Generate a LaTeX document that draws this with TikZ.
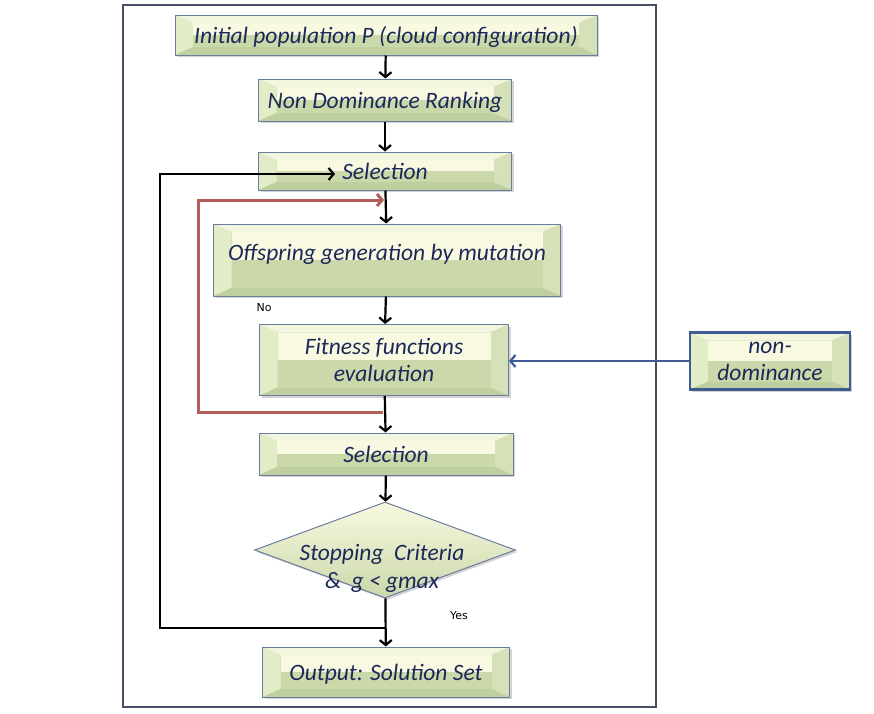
\documentclass[tikz,border=0pt]{standalone}
\usepackage{fontspec}
\setmainfont{Carlito}
\newfontfamily\notefont{DejaVu Sans}
\usetikzlibrary{arrows.meta,shapes.geometric,shadows,calc}

\definecolor{bevtop}{RGB}{242,246,222}
\definecolor{bevleft}{RGB}{226,236,198}
\definecolor{bevright}{RGB}{214,225,186}
\definecolor{bevbot}{RGB}{192,207,160}
\definecolor{panelhi}{RGB}{248,249,224}
\definecolor{panello}{RGB}{203,216,170}
\definecolor{boxline}{RGB}{105,125,160}
\definecolor{ink}{RGB}{28,40,88}
\definecolor{loopred}{RGB}{180,94,90}
\definecolor{feedblue}{RGB}{62,92,145}
\definecolor{frame}{RGB}{70,80,100}

\tikzset{
  bevel/.style={path picture={
    \path (path picture bounding box.north west) coordinate (p1)
          (path picture bounding box.north east) coordinate (p2)
          (path picture bounding box.south east) coordinate (p3)
          (path picture bounding box.south west) coordinate (p4);
    \path ([xshift=18pt,yshift=-8pt]p1) coordinate (q1)
          ([xshift=-18pt,yshift=-8pt]p2) coordinate (q2)
          ([xshift=-18pt,yshift=8pt]p3) coordinate (q3)
          ([xshift=18pt,yshift=8pt]p4) coordinate (q4);
    \fill[bevtop] (p1) -- (p2) -- (q2) -- (q1) -- cycle;
    \fill[bevleft] (p1) -- (q1) -- (q4) -- (p4) -- cycle;
    \fill[bevright] (p2) -- (p3) -- (q3) -- (q2) -- cycle;
    \fill[bevbot] (p4) -- (q4) -- (q3) -- (p3) -- cycle;
    \fill[panelhi] (q1) rectangle ($(q2)!.5!(q3)$);
    \fill[panello] ($(q1)!.5!(q4)$) rectangle (q3);
  }},
  blockbox/.style={draw=boxline, line width=1pt, fill=panello, bevel,
    text=ink, font=\fontsize{23.5}{27}\selectfont\itshape, align=center, inner sep=0pt,
    text depth=0pt,
    drop shadow={shadow xshift=2pt, shadow yshift=-2pt, opacity=.35}},
  decision/.style={draw=boxline, line width=1pt, top color=panelhi, bottom color=panello,
    diamond, aspect=2.72, inner sep=0pt,
    drop shadow={shadow xshift=2pt, shadow yshift=-2pt, opacity=.35}},
  flow/.style={line width=2.2pt, -{Straight Barb[length=5pt,width=12pt]}},
  note/.style={font=\notefont\fontsize{11}{13}\selectfont}
}

\begin{document}
\begin{tikzpicture}[x=1pt, y=-1pt]
		\useasboundingbox (0,0) rectangle (874,713);
		%outer frame
		\draw[frame, line width=1.5pt] (123,5) rectangle (656,707);
		
		%blocks
		\node[blockbox, minimum width=422pt, minimum height=40pt] (init) at (386,35) {Initial population P (cloud configuration)};
		\node[blockbox, minimum width=253pt, minimum height=42pt] (rank) at (385,100) {Non Dominance Ranking};
		\node[blockbox, minimum width=253pt, minimum height=38pt] (sel1) at (385,171) {Selection};
		\node[blockbox, minimum width=347pt, minimum height=72pt, text depth=15pt] (offs) at (387,260) {Offspring generation by mutation};
		\node[blockbox, minimum width=249pt, minimum height=71pt] (fit) at (384,360) {Fitness functions\\evaluation};
		\node[blockbox, minimum width=254pt, minimum height=42pt] (sel2) at (386,454) {Selection};
		\node[decision, minimum width=261pt, minimum height=96pt] (stop) at (385,550) {};
		\node[text=ink, font=\fontsize{23.5}{28}\selectfont\itshape, align=center] (stoptxt) at (382,568) {Stopping\ \ Criteria\\\&\ \ g < gmax};
		\node[blockbox, minimum width=247pt, minimum height=50pt] (out) at (386,672) {Output: Solution Set};
		\node[blockbox, draw=feedblue, line width=2.5pt, minimum width=160pt, minimum height=57pt] (nondom) at (770,361) {non-\\dominance};
		
		%main flow
		\draw[flow] (init) -- (rank);
		\draw[flow] (rank) -- (sel1);
		\draw[flow] (sel1) -- (offs);
		\draw[flow] (offs) -- (fit);
		\draw[flow] (fit) -- (sel2);
		\draw[flow] (sel2) -- (stop);
		\draw[flow] (stop) -- (out);
		
		%loops
		\coordinate (yesjoin) at (385,628);
		\coordinate (selin) at (335,174);
		\draw[flow] (yesjoin) -- ++(-225,0) |- (selin);
		
		\coordinate (fitout) at (383,412);
		\coordinate (offin) at (384,200);
		\draw[flow, loopred, line width=3pt] (fitout) -- ++(-185,0) |- (offin);
		
		\draw[flow, feedblue, line width=2.2pt] (nondom.west) -- (nondom.west -| fit.east);
		
		\node[note] (no) at (264,308) {No};
		\node[note] (yes) at (459,616) {Yes};
\end{tikzpicture}
\end{document}
